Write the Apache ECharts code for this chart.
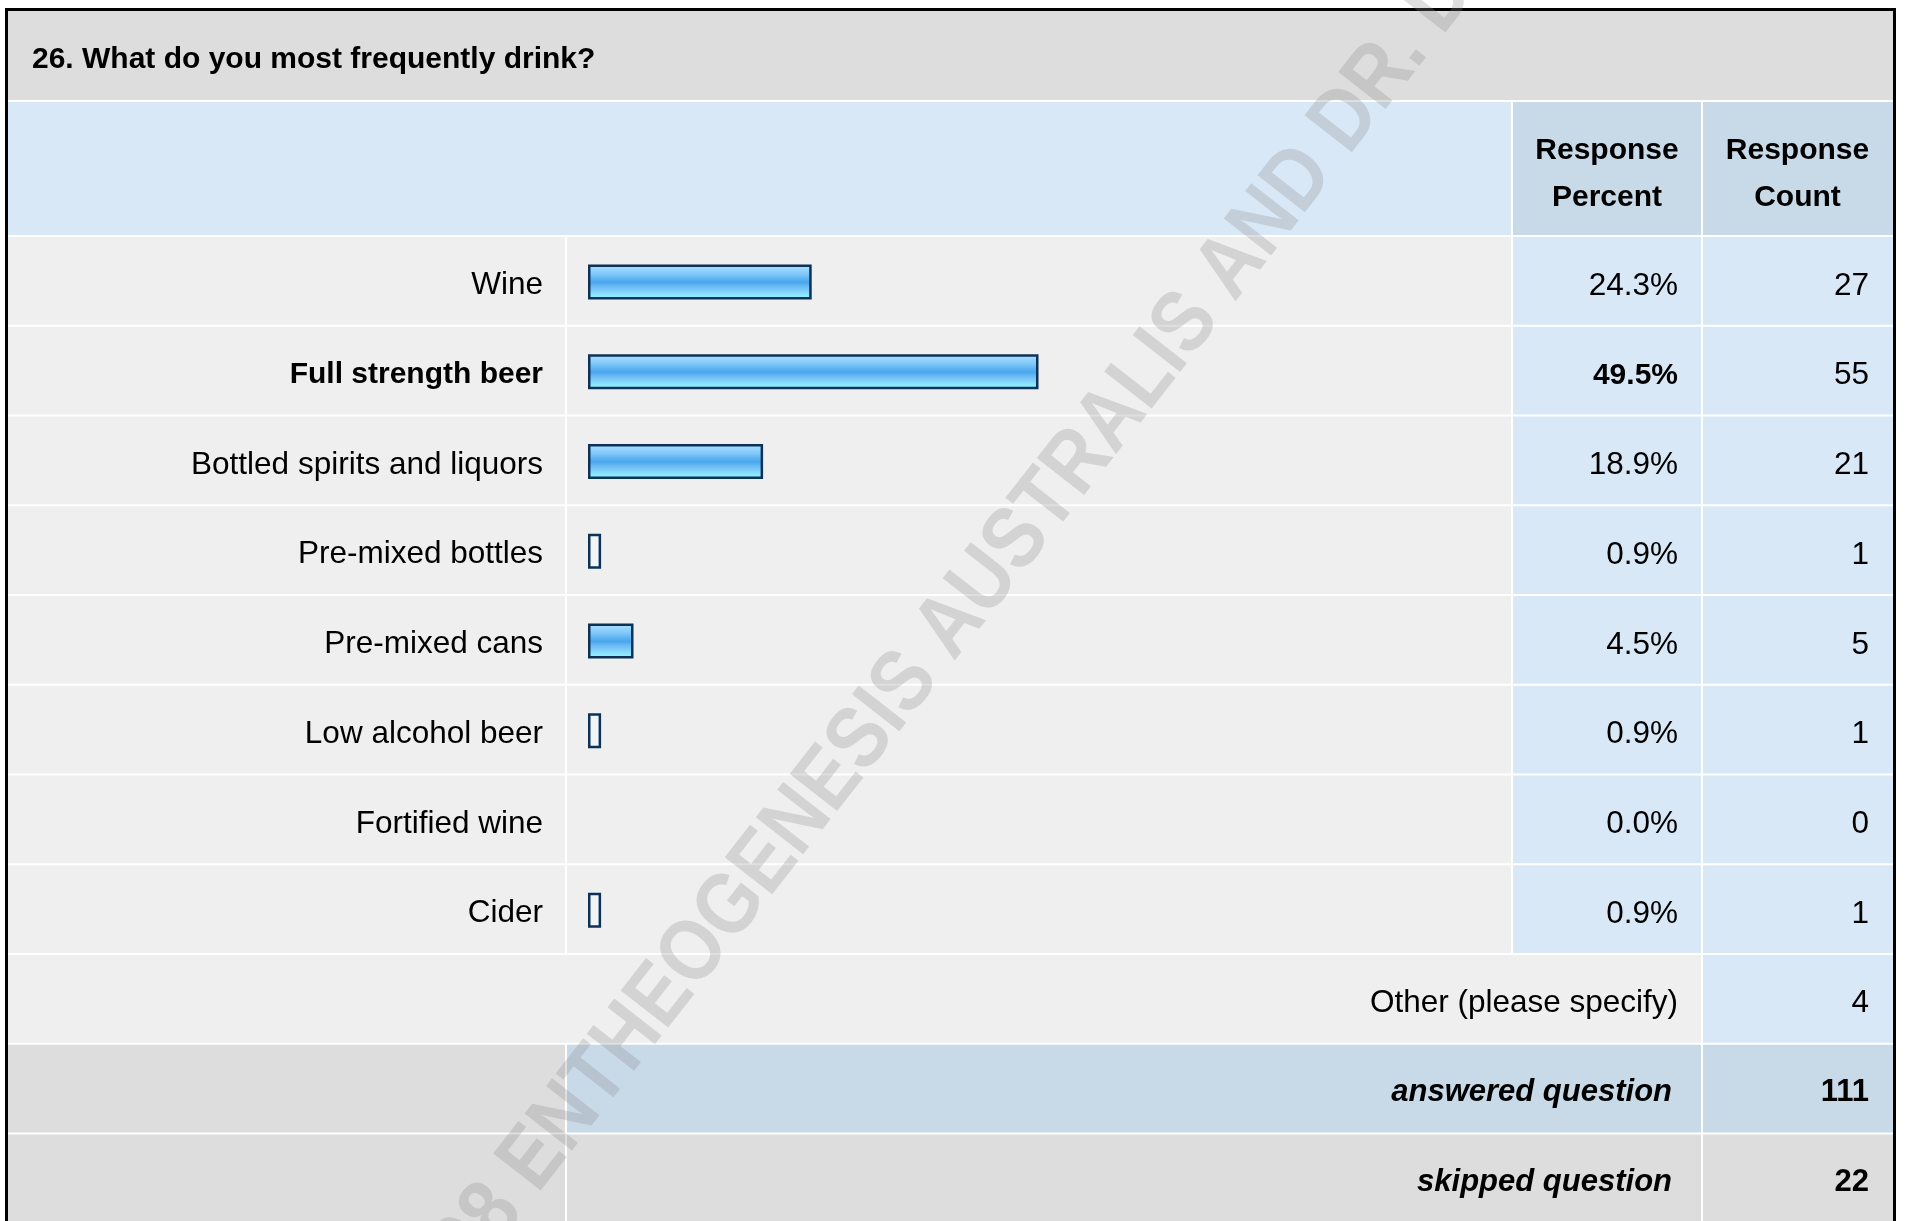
<!DOCTYPE html>
<html>
<head>
<meta charset="utf-8">
<script src="https://cdn.jsdelivr.net/npm/echarts@6/dist/echarts.min.js"></script>
<style>
html,body{margin:0;padding:0;background:#fff;}
#chart{width:1908px;height:1221px;}
</style>
</head>
<body>
<div id="chart"></div>
<script>
// ---- data ----
const title = '26. What do you most frequently drink?';
const categories = ['Wine', 'Full strength beer', 'Bottled spirits and liquors', 'Pre-mixed bottles', 'Pre-mixed cans', 'Low alcohol beer', 'Fortified wine', 'Cider'];
const percents = [24.3, 49.5, 18.9, 0.9, 4.5, 0.9, 0.0, 0.9];
const counts = [27, 55, 21, 1, 5, 1, 0, 1];
const headerLabels = ['Response\nPercent', 'Response\nCount'];
const footerLabels = ['Other (please specify)', 'answered question', 'skipped question'];
const footerValues = [4, 111, 22];
const watermarkText = '©2008 ENTHEOGENESIS AUSTRALIS AND DR. D';

// ---- layout ----
const FONT = '"Liberation Sans", Arial, Helvetica, sans-serif';
const FS = 30;      // bold text
const FSR = 31.5;   // regular text
const L = {
  left: 8, right: 1893,
  colA: 566, colB: 1512, colC: 1702,
  titleTop: 11, titleBot: 100,
  headTop: 102, headBot: 235,
  rowTop: 236, rowH: 89.75
};
const pctRight = 1678, cntRight = 1869, footRight = 1672;

const maxPct = Math.max.apply(null, percents);
const boldCat = categories[percents.indexOf(maxPct)];

const C_TITLE = '#dddddd', C_HEAD = '#d9e8f7', C_HEAD2 = '#c8d9e8', C_ROW = '#efefef', C_CELL = '#d9e8f7';

const graphics = [];
function rect(x1, y1, x2, y2, fill) {
  graphics.push({ type: 'rect', z: -10, silent: true, shape: { x: x1, y: y1, width: x2 - x1, height: y2 - y1 }, style: { fill: fill } });
}
function txt(s, x, y, align, opts) {
  graphics.push({
    type: 'text', z: 10, silent: true,
    style: Object.assign({ text: s, x: x, y: y, align: align, textAlign: align, verticalAlign: 'middle', textVerticalAlign: 'middle',
      fontSize: FSR, fontFamily: FONT, fill: '#000' }, opts || {})
  });
}
// title band
rect(L.left, L.titleTop, L.right, L.titleBot, C_TITLE);
// header
rect(L.left, L.headTop, L.colB - 1, L.headBot, C_HEAD);
rect(L.colB + 1, L.headTop, L.colC - 1, L.headBot, C_HEAD2);
rect(L.colC + 1, L.headTop, L.right, L.headBot, C_HEAD2);
// data rows
const nRows = categories.length;
for (let i = 0; i < nRows; i++) {
  const t = L.rowTop + i * L.rowH + 1, b = L.rowTop + (i + 1) * L.rowH - 1;
  rect(L.left, t, L.colA - 1, b, C_ROW);
  rect(L.colA + 1, t, L.colB - 1, b, C_ROW);
  rect(L.colB + 1, t, L.colC - 1, b, C_CELL);
  rect(L.colC + 1, t, L.right, b, C_CELL);
}
// footer rows
function rowBounds(i) { return [L.rowTop + i * L.rowH + 1, L.rowTop + (i + 1) * L.rowH - 1]; }
let fb = rowBounds(nRows);
rect(L.left, fb[0], L.colC - 1, fb[1], C_ROW);
rect(L.colC + 1, fb[0], L.right, fb[1], C_CELL);
fb = rowBounds(nRows + 1);
rect(L.left, fb[0], L.colA - 1, fb[1], C_TITLE);
rect(L.colA + 1, fb[0], L.colC - 1, fb[1], C_HEAD2);
rect(L.colC + 1, fb[0], L.right, fb[1], C_HEAD2);
fb = rowBounds(nRows + 2);
rect(L.left, fb[0], L.colA - 1, fb[1] + 20, C_TITLE);
rect(L.colA + 1, fb[0], L.colC - 1, fb[1] + 20, C_TITLE);
rect(L.colC + 1, fb[0], L.right, fb[1] + 20, C_TITLE);

// outer border
graphics.push({ type: 'rect', z: 20, silent: true, shape: { x: 6.5, y: 9.5, width: 1888, height: 1400 }, style: { fill: 'none', stroke: '#000', lineWidth: 3 } });

// texts
txt(title, 32, 60, 'left', { fontWeight: 'bold', fontSize: FS });
txt(headerLabels[0], (L.colB + L.colC) / 2, 174, 'center', { fontWeight: 'bold', fontSize: FS, lineHeight: 47 });
txt(headerLabels[1], (L.colC + L.right) / 2, 174, 'center', { fontWeight: 'bold', fontSize: FS, lineHeight: 47 });
for (let k = 0; k < footerLabels.length; k++) {
  const yc = L.rowTop + (nRows + k + 0.5) * L.rowH + 4;
  const bold = k > 0;
  txt(footerLabels[k], k === 0 ? pctRight : footRight, yc, 'right', bold ? { fontWeight: 'bold', fontStyle: 'italic', fontSize: 31 } : {});
  txt(String(footerValues[k]), cntRight, yc, 'right', bold ? { fontWeight: 'bold', fontSize: 31 } : {});
}
// watermark
graphics.push({
  type: 'text', z: 50, silent: true, x: 912, y: 676, rotation: 52 * Math.PI / 180, scaleY: 1.15,
  style: { text: watermarkText, x: 0, y: 0, align: 'center', textAlign: 'center', verticalAlign: 'middle', textVerticalAlign: 'middle',
    fontSize: 76, fontWeight: 'bold', fontFamily: FONT, fill: 'rgba(140,140,140,0.28)' }
});

const barGradient = {
  type: 'linear', x: 0, y: 0, x2: 0, y2: 1,
  colorStops: [
    { offset: 0, color: '#b2e2ff' },
    { offset: 0.14, color: '#97d5fd' },
    { offset: 0.28, color: '#7fc7f9' },
    { offset: 0.42, color: '#5cb2f1' },
    { offset: 0.52, color: '#4aa6ee' },
    { offset: 0.62, color: '#68b9f4' },
    { offset: 0.74, color: '#7ecbf8' },
    { offset: 0.86, color: '#8ae4fd' },
    { offset: 1, color: '#8cfbff' }
  ]
};

const seriesData = categories.map((c, i) => [percents[i], i, counts[i]]);

const chart = echarts.init(document.getElementById('chart'), null, { renderer: 'canvas' });
chart.setOption({
  animation: false,
  backgroundColor: '#ffffff',
  grid: { left: 590.5, width: 900, top: L.rowTop, height: L.rowH * nRows, containLabel: false },
  xAxis: { type: 'value', min: 0, max: 100, show: false },
  yAxis: {
    type: 'category', data: categories, inverse: true,
    axisLine: { show: false }, axisTick: { show: false }, splitLine: { show: false },
    axisLabel: {
      interval: 0, margin: 47.5, fontSize: FSR, fontFamily: FONT, color: '#000',
      padding: [9, 0, 0, 0],
      formatter: v => v === boldCat ? '{b|' + v + '}' : v,
      rich: { b: { fontWeight: 'bold', fontSize: FS, fontFamily: FONT, color: '#000' } }
    }
  },
  graphic: graphics,
  series: [{
    type: 'custom',
    data: seriesData,
    encode: { x: 0, y: 1 },
    clip: false,
    z: 5,
    renderItem: function (params, api) {
      const p = api.value(0), i = api.value(1), c = api.value(2);
      const a = api.coord([0, i]), e = api.coord([p, i]);
      const yc = a[1];
      const children = [];
      if (p > 0) {
        children.push({
          type: 'rect',
          shape: { x: a[0] - 1.25, y: yc + 1 - 16.25, width: e[0] - a[0] + 2.5, height: 32.5 },
          style: { fill: p < 1.5 ? '#f2f5f8' : barGradient, stroke: '#0d3257', lineWidth: 2.5 }
        });
      }
      const isMax = p === maxPct;
      children.push({
        type: 'text',
        style: { text: p.toFixed(1) + '%', x: pctRight, y: yc + 5, align: 'right', textAlign: 'right', verticalAlign: 'middle', textVerticalAlign: 'middle',
          fontSize: isMax ? FS : FSR, fontFamily: FONT, fontWeight: isMax ? 'bold' : 'normal', fill: '#000' }
      });
      children.push({
        type: 'text',
        style: { text: String(c), x: cntRight, y: yc + 5, align: 'right', textAlign: 'right', verticalAlign: 'middle', textVerticalAlign: 'middle',
          fontSize: FSR, fontFamily: FONT, fill: '#000' }
      });
      return { type: 'group', children: children };
    }
  }]
});
</script>
</body>
</html>
